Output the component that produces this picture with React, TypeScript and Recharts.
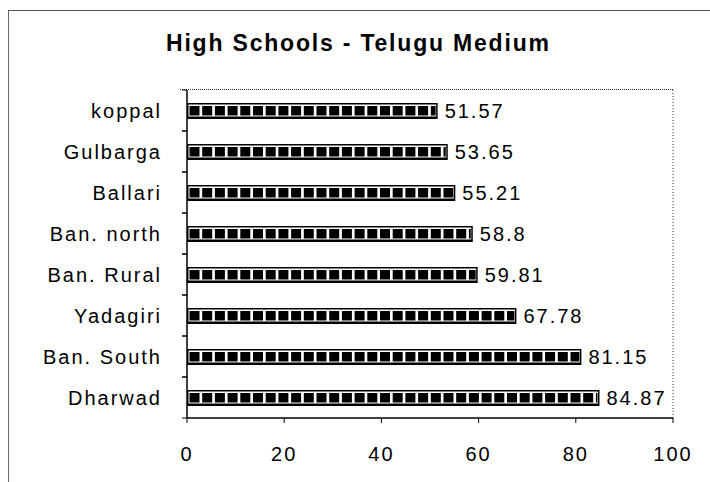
import React from "react";
import { BarChart, Bar, XAxis, YAxis, LabelList, ReferenceLine } from "recharts";

const districts = ["koppal", "Gulbarga", "Ballari", "Ban. north", "Ban. Rural", "Yadagiri", "Ban. South", "Dharwad"];
const values = [51.57, 53.65, 55.21, 58.8, 59.81, 67.78, 81.15, 84.87];
const xTicks = [0, 20, 40, 60, 80, 100];
const title = "High Schools - Telugu Medium";

const data = districts.map((name, i) => ({ name, value: values[i] }));

const FONT = '"Liberation Sans", Arial, Helvetica, sans-serif';
const BAND = 41;

const PatternBar = (props: any) => {
  const { x, y, width, height } = props;
  if (!width || width <= 0) return null;
  const squares: React.ReactNode[] = [];
  const period = 12.7;
  const start = x + 2.5;
  const end = x + width - 2;
  let k = 0;
  for (let sx = start; sx < end - 1; sx += period) {
    const w = Math.min(10, end - sx);
    squares.push(<rect key={k++} x={sx} y={y + 3} width={w} height={height - 6.5} fill="#000" />);
  }
  return (
    <g>
      <rect x={x} y={y} width={width} height={height} fill="#000" />
      <rect x={x + 1.5} y={y + 1.5} width={Math.max(0, width - 3)} height={height - 4} fill="#fff" />
      {squares}
    </g>
  );
};

const CatTick = (props: any) => {
  const { x, y, payload } = props;
  return (
    <g>
      <line x1={x - 5} x2={x} y1={y - BAND / 2} y2={y - BAND / 2} stroke="#000" strokeWidth={1} />
      <line x1={x - 5} x2={x} y1={y + BAND / 2} y2={y + BAND / 2} stroke="#000" strokeWidth={1} />
      <text
        x={x - 25}
        y={y}
        dy="0.355em"
        textAnchor="end"
        fill="#000"
        fontSize={20}
        fontFamily={FONT}
        letterSpacing={2}
      >
        {payload.value}
      </text>
    </g>
  );
};

export default function App() {
  return (
    <div style={{ position: "relative", width: 710, height: 482, background: "#fff", fontFamily: FONT }}>
      <style>{`body{margin:0;}`}</style>
      <div
        style={{
          position: "absolute",
          left: 8,
          top: 10,
          width: 702,
          height: 472,
          borderTop: "1px solid #555",
          borderLeft: "1px solid #666",
          boxSizing: "border-box",
        }}
      />
      <div
        style={{
          position: "absolute",
          left: 180,
          top: 89,
          width: 493,
          height: 0,
          borderTop: "1px dotted #333",
        }}
      />
      <div
        style={{
          position: "absolute",
          left: 166,
          top: 31,
          fontSize: 23,
          lineHeight: "24px",
          fontWeight: "bold",
          letterSpacing: 1.8,
          whiteSpace: "nowrap",
          color: "#000",
        }}
      >
        {title}
      </div>
      <div style={{ position: "absolute", left: 0, top: 0 }}>
        <BarChart
          width={710}
          height={482}
          data={data}
          layout="vertical"
          margin={{ top: 90, right: 37, bottom: 24, left: 0 }}
          barSize={16}
        >
          <XAxis
            type="number"
            domain={[0, 100]}
            ticks={xTicks}
            interval={0}
            height={40}
            axisLine={{ stroke: "#000", strokeWidth: 1.5 }}
            tickLine={{ stroke: "#000" }}
            tickSize={5}
            tickMargin={24}
            tick={{ fill: "#000", fontSize: 20, fontFamily: FONT, letterSpacing: 2 }}
          />
          <YAxis
            type="category"
            dataKey="name"
            width={187}
            axisLine={{ stroke: "#000", strokeWidth: 1.5 }}
            tickLine={false}
            tickSize={0}
            tickMargin={0}
            interval={0}
            tick={<CatTick />}
          />
          <ReferenceLine x={100} stroke="#333" strokeDasharray="1 2" ifOverflow="visible" />
          <Bar dataKey="value" shape={<PatternBar />} isAnimationActive={false}>
            <LabelList
              dataKey="value"
              position="right"
              offset={7}
              fill="#000"
              fontSize={20}
              fontFamily={FONT}
              letterSpacing={2}
            />
          </Bar>
        </BarChart>
      </div>
    </div>
  );
}
